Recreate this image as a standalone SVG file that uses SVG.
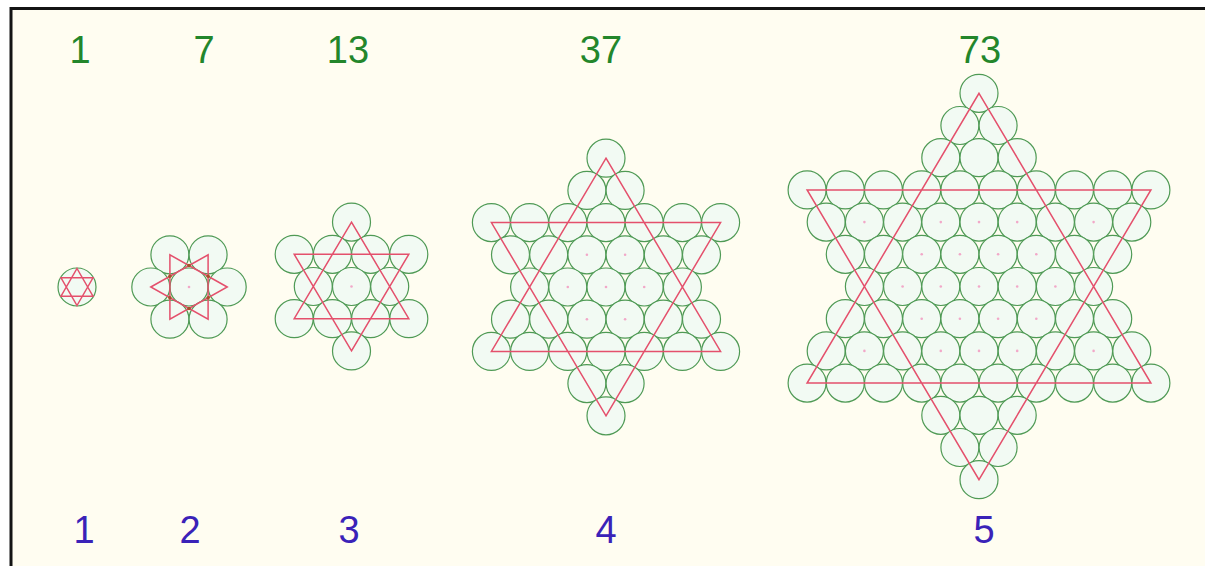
<svg xmlns="http://www.w3.org/2000/svg" xmlns:xlink="http://www.w3.org/1999/xlink" width="1205" height="566" viewBox="0 0 1205 566">
<style>
.ball{fill:#f2faf3;stroke:#4f9a55;stroke-width:1.2}
.tri{fill:none;stroke:#e4506c;stroke-width:1.5;stroke-linejoin:miter}
.dot{fill:#f2a8c8}
.bdot{fill:#a4532a}
.top{font-family:"Liberation Sans",Arial,sans-serif;font-size:38px;fill:#23862b;text-anchor:middle}
.bot{font-family:"Liberation Sans",Arial,sans-serif;font-size:38px;fill:#3a22b8;text-anchor:middle}
</style>
<defs>
<circle id="c" r="19" class="ball"/>
<circle id="d" r="1.3" class="dot"/>
<g id="r1"><use href="#c"/></g>
<g id="r2"><use href="#c" x="-19.1"/><use href="#c" x="19.1"/></g>
<g id="r3"><use href="#c" x="-38.2"/><use href="#c"/><use href="#c" x="38.2"/></g>
<g id="r4"><use href="#c" x="-57.3"/><use href="#c" x="-19.1"/><use href="#c" x="19.1"/><use href="#c" x="57.3"/></g>
<g id="r5"><use href="#c" x="-76.4"/><use href="#c" x="-38.2"/><use href="#c"/><use href="#c" x="38.2"/><use href="#c" x="76.4"/></g>
<g id="r6"><use href="#c" x="-95.5"/><use href="#c" x="-57.3"/><use href="#c" x="-19.1"/><use href="#c" x="19.1"/><use href="#c" x="57.3"/><use href="#c" x="95.5"/></g>
<g id="r7"><use href="#c" x="-114.6"/><use href="#c" x="-76.4"/><use href="#c" x="-38.2"/><use href="#c"/><use href="#c" x="38.2"/><use href="#c" x="76.4"/><use href="#c" x="114.6"/></g>
<g id="r8"><use href="#c" x="-133.7"/><use href="#c" x="-95.5"/><use href="#c" x="-57.3"/><use href="#c" x="-19.1"/><use href="#c" x="19.1"/><use href="#c" x="57.3"/><use href="#c" x="95.5"/><use href="#c" x="133.7"/></g>
<g id="r9"><use href="#c" x="-152.8"/><use href="#c" x="-114.6"/><use href="#c" x="-76.4"/><use href="#c" x="-38.2"/><use href="#c"/><use href="#c" x="38.2"/><use href="#c" x="76.4"/><use href="#c" x="114.6"/><use href="#c" x="152.8"/></g>
<g id="r10"><use href="#c" x="-171.9"/><use href="#c" x="-133.7"/><use href="#c" x="-95.5"/><use href="#c" x="-57.3"/><use href="#c" x="-19.1"/><use href="#c" x="19.1"/><use href="#c" x="57.3"/><use href="#c" x="95.5"/><use href="#c" x="133.7"/><use href="#c" x="171.9"/></g>
</defs>

<rect x="0" y="0" width="1205" height="566" fill="#ffffff"/>
<rect x="11" y="8.5" width="1194" height="557.5" fill="#fffdf1"/>
<path d="M11,566 V8.5 H1205" fill="none" stroke="#141414" stroke-width="3"/>

<g id="star1" transform="translate(77,287)">
<use href="#r1"/>
<path class="tri" d="M0,-18.5 L16,9.25 L-16,9.25 Z M0,18.5 L16,-9.25 L-16,-9.25 Z"/>
</g>

<g id="star7" transform="translate(189,287)">
<use href="#r2" y="-32.2"/>
<use href="#r3"/>
<use href="#r2" y="32.2"/>
<use href="#d"/>
<path class="tri" d="M-38.2,0 L19.1,-32.2 L19.1,32.2 Z M38.2,0 L-19.1,-32.2 L-19.1,32.2 Z"/>
<g class="bdot">
<circle cx="0" cy="-21.5" r="1.8"/><circle cx="0" cy="21.5" r="1.8"/>
<circle cx="19.1" cy="-10.7" r="1.8"/><circle cx="19.1" cy="10.7" r="1.8"/>
<circle cx="-19.1" cy="-10.7" r="1.8"/><circle cx="-19.1" cy="10.7" r="1.8"/>
</g>
</g>

<g id="star13" transform="translate(351.5,286.5)">
<use href="#r1" y="-64.4"/>
<use href="#r4" y="-32.2"/>
<use href="#r3"/>
<use href="#r4" y="32.2"/>
<use href="#r1" y="64.4"/>
<use href="#d"/>
<path class="tri" d="M0,-64.4 L57.3,32.2 L-57.3,32.2 Z M0,64.4 L57.3,-32.2 L-57.3,-32.2 Z"/>
</g>

<g id="star37" transform="translate(606,287)">
<use href="#r1" y="-128.8"/>
<use href="#r2" y="-96.6"/>
<use href="#r7" y="-64.4"/>
<use href="#r6" y="-32.2"/>
<use href="#r5"/>
<use href="#r6" y="32.2"/>
<use href="#r7" y="64.4"/>
<use href="#r2" y="96.6"/>
<use href="#r1" y="128.8"/>
<use href="#d"/><use href="#d" x="-38.2"/><use href="#d" x="38.2"/>
<use href="#d" x="-19.1" y="-32.2"/><use href="#d" x="19.1" y="-32.2"/>
<use href="#d" x="-19.1" y="32.2"/><use href="#d" x="19.1" y="32.2"/>
<path class="tri" d="M0,-128.8 L114.6,64.4 L-114.6,64.4 Z M0,128.8 L114.6,-64.4 L-114.6,-64.4 Z"/>
</g>

<g id="star73" transform="translate(979,286.5)">
<use href="#r1" y="-193.2"/>
<use href="#r2" y="-161"/>
<use href="#r3" y="-128.8"/>
<use href="#r10" y="-96.6"/>
<use href="#r9" y="-64.4"/>
<use href="#r8" y="-32.2"/>
<use href="#r7"/>
<use href="#r8" y="32.2"/>
<use href="#r9" y="64.4"/>
<use href="#r10" y="96.6"/>
<use href="#r3" y="128.8"/>
<use href="#r2" y="161"/>
<use href="#r1" y="193.2"/>
<use href="#d"/><use href="#d" x="-38.2"/><use href="#d" x="38.2"/><use href="#d" x="-76.4"/><use href="#d" x="76.4"/>
<use href="#d" x="-19.1" y="-32.2"/><use href="#d" x="19.1" y="-32.2"/><use href="#d" x="-57.3" y="-32.2"/><use href="#d" x="57.3" y="-32.2"/>
<use href="#d" x="-19.1" y="32.2"/><use href="#d" x="19.1" y="32.2"/><use href="#d" x="-57.3" y="32.2"/><use href="#d" x="57.3" y="32.2"/>
<use href="#d" y="-64.4"/><use href="#d" x="-38.2" y="-64.4"/><use href="#d" x="38.2" y="-64.4"/><use href="#d" x="-114.6" y="-64.4"/><use href="#d" x="114.6" y="-64.4"/>
<use href="#d" y="64.4"/><use href="#d" x="-38.2" y="64.4"/><use href="#d" x="38.2" y="64.4"/><use href="#d" x="-114.6" y="64.4"/><use href="#d" x="114.6" y="64.4"/>
<path class="tri" d="M0,-193.2 L171.9,96.6 L-171.9,96.6 Z M0,193.2 L171.9,-96.6 L-171.9,-96.6 Z"/>
</g>

<g id="labels-top">
<text class="top" x="80" y="63">1</text>
<text class="top" x="204" y="63">7</text>
<text class="top" x="348" y="63">13</text>
<text class="top" x="601" y="63">37</text>
<text class="top" x="980" y="63">73</text>
</g>
<g id="labels-bottom">
<text class="bot" x="84" y="543">1</text>
<text class="bot" x="190" y="543">2</text>
<text class="bot" x="349" y="543">3</text>
<text class="bot" x="606" y="543">4</text>
<text class="bot" x="984" y="543">5</text>
</g>
</svg>
